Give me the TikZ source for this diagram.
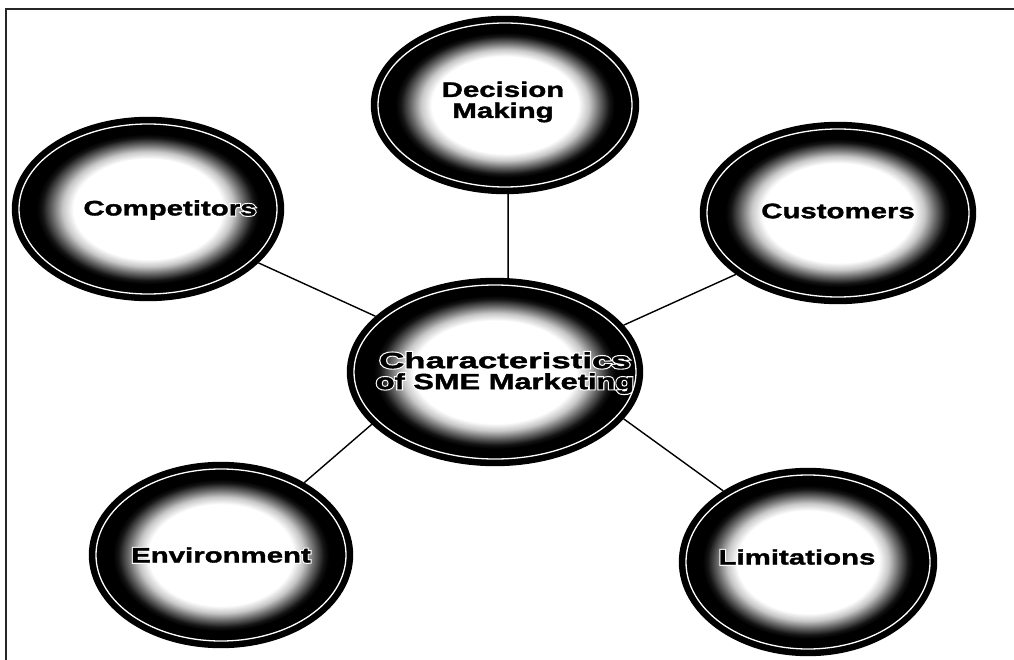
\documentclass[tikz,border=0pt]{standalone}
\usepackage{fontspec}
\newfontfamily\lblfont{Liberation Sans Bold}[FakeStretch=1.4, FakeBold=1.6]
\newfontfamily\halofont{Liberation Sans Bold}[FakeStretch=1.4, FakeBold=12]
\usetikzlibrary{shapes.geometric,calc}
\pgfdeclareradialshading{bubshade}{\pgfpointorigin}{color(0bp)=(white); color(13.8bp)=(white); color(15.8bp)=(black!22); color(17.8bp)=(black!60); color(19.6bp)=(black!92); color(20.6bp)=(black); color(25bp)=(black); color(50bp)=(black)}
\tikzset{
  bub/.style={ellipse, inner sep=0pt, draw=black, line width=2.4pt, shade, shading=bubshade,
    path picture={\draw[white, line width=1.3pt] let \p1=($(path picture bounding box.north east)-(path picture bounding box.center)$) in (path picture bounding box.center) ellipse ({\x1-6pt} and {\y1-6pt});}},
  lbl/.style={inner sep=0pt, align=center, font=\lblfont\fontsize{21}{21}\selectfont, text=black},
  bigl/.style={lbl, font=\lblfont\fontsize{22}{21}\selectfont},
  halo/.style={inner sep=0pt, align=center, font=\halofont\fontsize{21}{21}\selectfont, text=white},
  bigh/.style={halo, font=\halofont\fontsize{22}{21}\selectfont},
  conn/.style={draw=black, line width=1.4pt},
  frame/.style={draw=black!85, line width=2pt}
}
\begin{document}
\begin{tikzpicture}[x=1pt,y=-1pt]
\useasboundingbox (0,0) rectangle (1014,660);
\fill[white] (0,0) rectangle (1014,660);
\coordinate (fb) at (6,660);
\coordinate (fc) at (6,9.5);
\coordinate (fr) at (1014,9.5);
\draw[frame] (fb) -- (fc) -- (fr);

\node[bub, minimum width=294pt, minimum height=186pt] (ctr) at (495,372) {};
\node[bub, minimum width=266pt, minimum height=176pt] (dm) at (505,105) {};
\node[bub, minimum width=270pt, minimum height=182pt] (comp) at (148,209) {};
\node[bub, minimum width=274pt, minimum height=180pt] (cust) at (838,213) {};
\node[bub, minimum width=262pt, minimum height=184pt] (env) at (221,555) {};
\node[bub, minimum width=256pt, minimum height=186pt] (lim) at (808,562) {};

\draw[conn] (dm.272) -- (ctr.82);
\draw[conn] (comp.334) -- (ctr.155);
\draw[conn] (cust.211) -- (ctr.20);
\draw[conn] (env.41) -- (ctr.203);
\draw[conn] (lim.140) -- (ctr.340);

% white halos behind the labels
\node[bigh] (ctrh) at (505,373) {\scalebox{1.13}[1]{Characteristics}\\of SME Marketing};
\node[halo] (dmh) at (503,102) {Decision\\Making};
\node[halo] (comph) at (170,210) {Competitors};
\node[halo] (custh) at (838,211) {Customers};
\node[halo] (envh) at (221,555) {Environment};
\node[halo] (limh) at (797,557) {Limitations};

\node[bigl] (ctrt) at (505,373) {\scalebox{1.13}[1]{Characteristics}\\of SME Marketing};
\node[lbl] (dmt) at (503,102) {Decision\\Making};
\node[lbl] (compt) at (170,210) {Competitors};
\node[lbl] (custt) at (838,211) {Customers};
\node[lbl] (envt) at (221,555) {Environment};
\node[lbl] (limt) at (797,557) {Limitations};
\end{tikzpicture}
\end{document}
